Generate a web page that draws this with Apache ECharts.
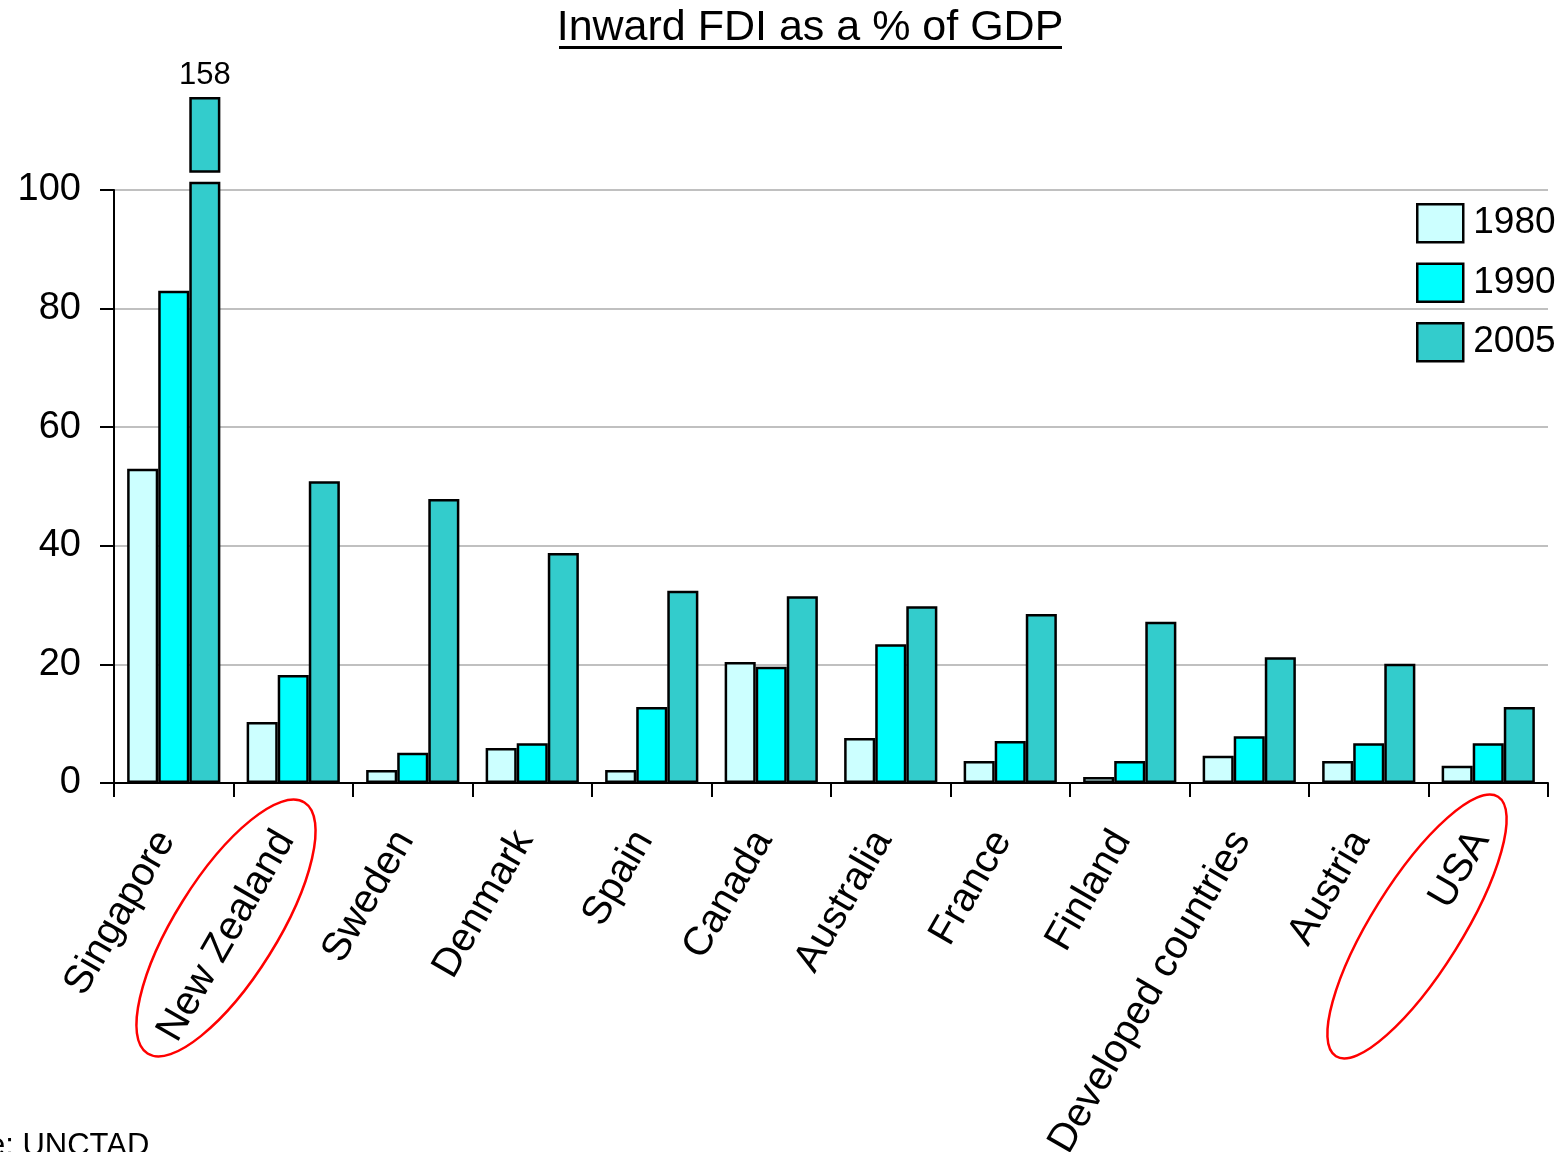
<!DOCTYPE html>
<html>
<head>
<meta charset="utf-8">
<script src="https://cdn.jsdelivr.net/npm/echarts@6/dist/echarts.min.js"></script>
<style>
html,body{margin:0;padding:0;background:#fff;}
#chart{width:1558px;height:1152px;}
</style>
</head>
<body>
<div id="chart"></div>
<script>
// ---- data ----
var categories = ['Singapore','New Zealand','Sweden','Denmark','Spain','Canada','Australia','France','Finland','Developed countries','Austria','USA'];
var v1980 = [53, 10.3, 2.2, 5.9, 2.2, 20.4, 7.6, 3.7, 1.0, 4.6, 3.7, 2.9];
var v1990 = [83, 18.2, 5.1, 6.7, 12.8, 19.6, 23.4, 7.1, 3.7, 7.9, 6.7, 6.7];
var v2005 = [158, 50.9, 47.9, 38.8, 32.4, 31.5, 29.8, 28.5, 27.2, 21.2, 20.1, 12.8];
var yTicks = [0, 20, 40, 60, 80, 100];

// ---- broken-bar display for values beyond the axis ----
var axisMax = 100;
var breakLower = 101.4;   // height of lower piece of a broken bar
var breakGap = 1.5;       // white gap
var breakTop = 12.8;      // height of the floating top piece
var s2005 = v2005.map(function(v){ return v > axisMax ? breakLower : v; });
var sGap = v2005.map(function(v){ return v > axisMax ? breakGap : null; });
var sTop = v2005.map(function(v){ return v > axisMax ? breakTop : null; });

var FONT = 'Liberation Sans, Arial, sans-serif';
var colors = {'1980':'#ccffff','1990':'#00ffff','2005':'#33cccc'};
var chart = echarts.init(document.getElementById('chart'));

function barStyle(c){ return {color:c, borderColor:'#000', borderWidth:2.5}; }

var option = {
  animation:false,
  textStyle:{fontFamily:FONT},
  grid:{left:114, right:10, top:190, bottom:369, containLabel:false, outerBoundsMode:'none'},
  legend:{
    data:['1980','1990','2005'], orient:'vertical', left:1416, top:203,
    itemWidth:46, itemHeight:38, itemGap:19, padding:0,
    icon:'rect',
    itemStyle:{borderColor:'#000', borderWidth:2.5},
    textStyle:{fontSize:37, color:'#000', fontFamily:FONT, padding:[0,0,0,5]}
  },
  xAxis:{
    type:'category', data:categories,
    axisLine:{lineStyle:{color:'#000', width:2}},
    axisTick:{show:true, length:14, lineStyle:{color:'#000', width:2}},
    axisLabel:{rotate:60, fontSize:40, color:'#000', fontFamily:FONT, margin:37, interval:0,
      padding:[0,16,12,0]}
  },
  yAxis:{
    type:'value', min:0, max:axisMax, interval:20,
    axisLine:{show:true, lineStyle:{color:'#000', width:2}},
    axisTick:{show:true, length:14, lineStyle:{color:'#000', width:2}},
    axisLabel:{fontSize:38, color:'#000', fontFamily:FONT, margin:33,
      formatter:function(v){ return yTicks.indexOf(v) >= 0 ? String(v) : ''; }},
    splitLine:{show:true, lineStyle:{color:'#c0c0c0', width:2}}
  },
  series:[
    {name:'1980', type:'bar', data:v1980, itemStyle:barStyle(colors['1980']), barGap:'0%', barCategoryGap:'22%', clip:false},
    {name:'1990', type:'bar', data:v1990, itemStyle:barStyle(colors['1990']), clip:false},
    {name:'2005', type:'bar', stack:'s05', data:s2005, itemStyle:barStyle(colors['2005']), clip:false},
    {name:'gap', type:'bar', stack:'s05', data:sGap, itemStyle:{color:'rgba(0,0,0,0)', borderWidth:0}, clip:false, silent:true},
    {name:'top', type:'bar', stack:'s05', data:sTop, itemStyle:barStyle(colors['2005']), clip:false,
      label:{show:true, position:'top', distance:6, fontSize:31, color:'#000', fontFamily:FONT,
        formatter:function(p){ return String(v2005[p.dataIndex]); }}}
  ],
  graphic:[
    {type:'text', x:810, y:7, style:{text:'Inward FDI as a % of GDP', font:'43px '+FONT, fill:'#000', textAlign:'center', textVerticalAlign:'top'}},
    {type:'line', shape:{x1:559, y1:47.5, x2:1062, y2:47.5}, style:{stroke:'#000', lineWidth:3}},
    {type:'text', x:-93, y:1131, style:{text:'Source: UNCTAD', font:'31px '+FONT, fill:'#000', textAlign:'left', textVerticalAlign:'top'}},
    {type:'ellipse', x:226, y:928, rotation:58*Math.PI/180, shape:{cx:0, cy:0, rx:148, ry:51}, style:{fill:'none', stroke:'#ff0000', lineWidth:2.5}},
    {type:'ellipse', x:1417, y:926.5, rotation:58*Math.PI/180, shape:{cx:0, cy:0, rx:153, ry:45}, style:{fill:'none', stroke:'#ff0000', lineWidth:2.5}}
  ]
};
chart.setOption(option);
</script>
</body>
</html>
